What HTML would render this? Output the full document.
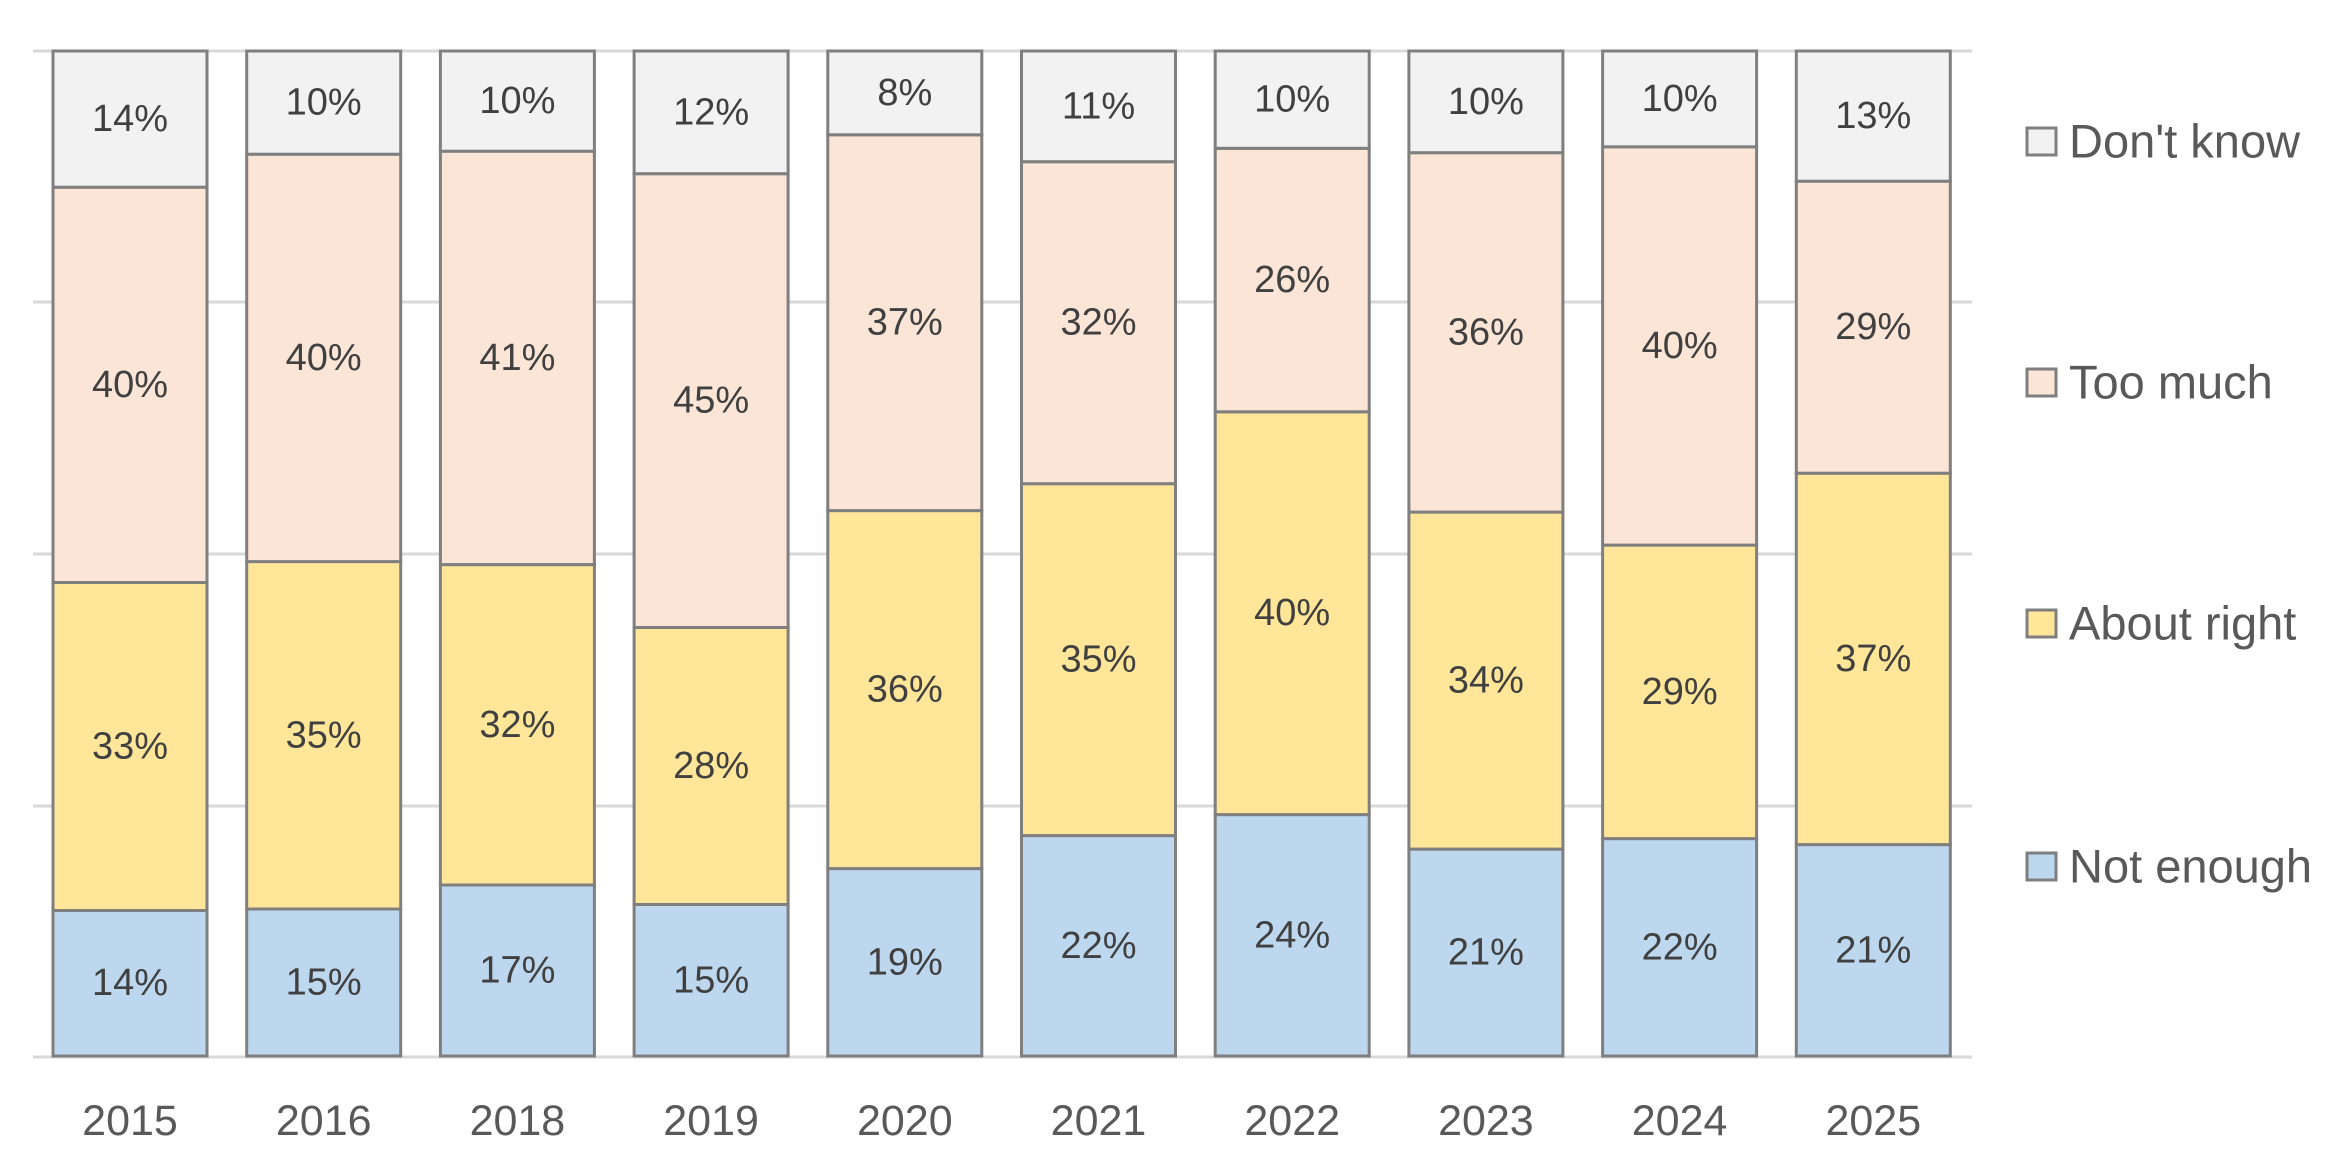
<!DOCTYPE html>
<html><head><meta charset="utf-8"><style>
html,body{margin:0;padding:0;background:#fff;}
svg{display:block;}
text{font-family:"Liberation Sans",sans-serif;}
.l{font-size:38px;fill:#404040;text-anchor:middle;dominant-baseline:central;}
.y{font-size:43px;fill:#595959;text-anchor:middle;dominant-baseline:central;}
.g{font-size:47px;fill:#595959;dominant-baseline:central;}
rect.s{stroke:#7f7f7f;stroke-width:3;}
</style></head><body>
<svg width="2348" height="1158" viewBox="0 0 2348 1158" xmlns="http://www.w3.org/2000/svg">
<g stroke="#d9d9d9" stroke-width="3">
<line x1="33" y1="51" x2="1972" y2="51"/>
<line x1="33" y1="302" x2="1972" y2="302"/>
<line x1="33" y1="554" x2="1972" y2="554"/>
<line x1="33" y1="806" x2="1972" y2="806"/>
<line x1="33" y1="1057" x2="1972" y2="1057"/>
</g>
<g id="bars">
<rect class="s" x="53" y="910.5" width="154" height="145.5" fill="#bdd7ee"/>
<rect class="s" x="53" y="582.5" width="154" height="328" fill="#ffe699"/>
<rect class="s" x="53" y="187.2" width="154" height="395.3" fill="#fbe5d6"/>
<rect class="s" x="53" y="51" width="154" height="136.2" fill="#f2f2f2"/>
<rect class="s" x="246.7" y="909" width="154" height="147" fill="#bdd7ee"/>
<rect class="s" x="246.7" y="561.6" width="154" height="347.4" fill="#ffe699"/>
<rect class="s" x="246.7" y="154.2" width="154" height="407.4" fill="#fbe5d6"/>
<rect class="s" x="246.7" y="51" width="154" height="103.2" fill="#f2f2f2"/>
<rect class="s" x="440.4" y="885" width="154" height="171" fill="#bdd7ee"/>
<rect class="s" x="440.4" y="564.6" width="154" height="320.4" fill="#ffe699"/>
<rect class="s" x="440.4" y="151.2" width="154" height="413.4" fill="#fbe5d6"/>
<rect class="s" x="440.4" y="51" width="154" height="100.2" fill="#f2f2f2"/>
<rect class="s" x="634.1" y="904.5" width="154" height="151.5" fill="#bdd7ee"/>
<rect class="s" x="634.1" y="627.5" width="154" height="277" fill="#ffe699"/>
<rect class="s" x="634.1" y="173.7" width="154" height="453.8" fill="#fbe5d6"/>
<rect class="s" x="634.1" y="51" width="154" height="122.7" fill="#f2f2f2"/>
<rect class="s" x="827.8" y="868.6" width="154" height="187.4" fill="#bdd7ee"/>
<rect class="s" x="827.8" y="510.6" width="154" height="358" fill="#ffe699"/>
<rect class="s" x="827.8" y="134.8" width="154" height="375.8" fill="#fbe5d6"/>
<rect class="s" x="827.8" y="51" width="154" height="83.8" fill="#f2f2f2"/>
<rect class="s" x="1021.5" y="835.6" width="154" height="220.4" fill="#bdd7ee"/>
<rect class="s" x="1021.5" y="483.7" width="154" height="351.9" fill="#ffe699"/>
<rect class="s" x="1021.5" y="161.7" width="154" height="322" fill="#fbe5d6"/>
<rect class="s" x="1021.5" y="51" width="154" height="110.7" fill="#f2f2f2"/>
<rect class="s" x="1215.2" y="814.6" width="154" height="241.4" fill="#bdd7ee"/>
<rect class="s" x="1215.2" y="411.8" width="154" height="402.8" fill="#ffe699"/>
<rect class="s" x="1215.2" y="148.3" width="154" height="263.5" fill="#fbe5d6"/>
<rect class="s" x="1215.2" y="51" width="154" height="97.3" fill="#f2f2f2"/>
<rect class="s" x="1408.9" y="849.1" width="154" height="206.9" fill="#bdd7ee"/>
<rect class="s" x="1408.9" y="512.1" width="154" height="337" fill="#ffe699"/>
<rect class="s" x="1408.9" y="152.7" width="154" height="359.4" fill="#fbe5d6"/>
<rect class="s" x="1408.9" y="51" width="154" height="101.7" fill="#f2f2f2"/>
<rect class="s" x="1602.6" y="838.6" width="154" height="217.4" fill="#bdd7ee"/>
<rect class="s" x="1602.6" y="545.1" width="154" height="293.5" fill="#ffe699"/>
<rect class="s" x="1602.6" y="146.8" width="154" height="398.3" fill="#fbe5d6"/>
<rect class="s" x="1602.6" y="51" width="154" height="95.8" fill="#f2f2f2"/>
<rect class="s" x="1796.3" y="844.6" width="154" height="211.4" fill="#bdd7ee"/>
<rect class="s" x="1796.3" y="473.2" width="154" height="371.4" fill="#ffe699"/>
<rect class="s" x="1796.3" y="181.2" width="154" height="292" fill="#fbe5d6"/>
<rect class="s" x="1796.3" y="51" width="154" height="130.2" fill="#f2f2f2"/>
</g>
<g>
<text class="l" x="130" y="983">14%</text><text class="l" x="130" y="746.5">33%</text><text class="l" x="130" y="385">40%</text><text class="l" x="130" y="119">14%</text>
<text class="l" x="323.7" y="982.5">15%</text><text class="l" x="323.7" y="735.3">35%</text><text class="l" x="323.7" y="357.9">40%</text><text class="l" x="323.7" y="102.6">10%</text>
<text class="l" x="517.4" y="970.5">17%</text><text class="l" x="517.4" y="724.8">32%</text><text class="l" x="517.4" y="357.9">41%</text><text class="l" x="517.4" y="101.1">10%</text>
<text class="l" x="711.1" y="980.3">15%</text><text class="l" x="711.1" y="766">28%</text><text class="l" x="711.1" y="400.6">45%</text><text class="l" x="711.1" y="112.4">12%</text>
<text class="l" x="904.8" y="962.3">19%</text><text class="l" x="904.8" y="689.6">36%</text><text class="l" x="904.8" y="322.7">37%</text><text class="l" x="904.8" y="92.9">8%</text>
<text class="l" x="1098.5" y="945.8">22%</text><text class="l" x="1098.5" y="659.7">35%</text><text class="l" x="1098.5" y="322.7">32%</text><text class="l" x="1098.5" y="106.4">11%</text>
<text class="l" x="1292.2" y="935.3">24%</text><text class="l" x="1292.2" y="613.2">40%</text><text class="l" x="1292.2" y="280">26%</text><text class="l" x="1292.2" y="99.7">10%</text>
<text class="l" x="1485.9" y="952.6">21%</text><text class="l" x="1485.9" y="680.6">34%</text><text class="l" x="1485.9" y="332.4">36%</text><text class="l" x="1485.9" y="101.9">10%</text>
<text class="l" x="1679.6" y="947.3">22%</text><text class="l" x="1679.6" y="691.9">29%</text><text class="l" x="1679.6" y="346">40%</text><text class="l" x="1679.6" y="98.9">10%</text>
<text class="l" x="1873.3" y="950.3">21%</text><text class="l" x="1873.3" y="658.9">37%</text><text class="l" x="1873.3" y="327.2">29%</text><text class="l" x="1873.3" y="116.1">13%</text>
</g>
<g>
<text class="y" x="130" y="1121">2015</text>
<text class="y" x="323.7" y="1121">2016</text>
<text class="y" x="517.4" y="1121">2018</text>
<text class="y" x="711.1" y="1121">2019</text>
<text class="y" x="904.8" y="1121">2020</text>
<text class="y" x="1098.5" y="1121">2021</text>
<text class="y" x="1292.2" y="1121">2022</text>
<text class="y" x="1485.9" y="1121">2023</text>
<text class="y" x="1679.6" y="1121">2024</text>
<text class="y" x="1873.3" y="1121">2025</text>
</g>
<g>
<rect class="s" x="2027" y="128" width="29" height="27" fill="#f2f2f2"/>
<text class="g" x="2069" y="141">Don't know</text>
<rect class="s" x="2027" y="369" width="29" height="27" fill="#fbe5d6"/>
<text class="g" x="2069" y="382">Too much</text>
<rect class="s" x="2027" y="610" width="29" height="27" fill="#ffe699"/>
<text class="g" x="2069" y="623">About right</text>
<rect class="s" x="2027" y="853" width="29" height="27" fill="#bdd7ee"/>
<text class="g" x="2069" y="866">Not enough</text>
</g>
</svg>
</body></html>
